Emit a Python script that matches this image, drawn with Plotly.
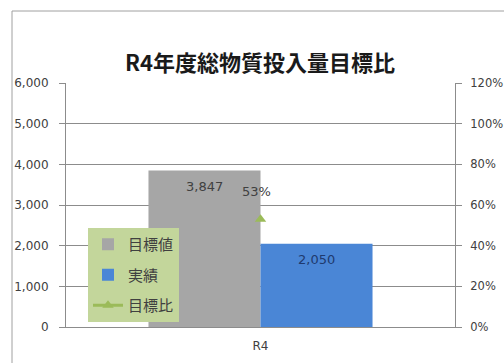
import plotly.graph_objects as go
from plotly.subplots import make_subplots

categories = ["R4"]
target_values = [3847]
actual_values = [2050]
ratio_values = [0.53]
series_names = ["目標値", "実績", "目標比"]
title_text = "R4年度総物質投入量目標比"

W, H = 504, 363
L, R, T, B = 66, 49, 83, 36
pw, ph = W - L - R, H - T - B

font_num = "DejaVu Sans, sans-serif"
font_jp = "Noto Sans CJK JP, sans-serif"
grid = "#8c8c8c"
txt = "#404040"

fig = make_subplots(specs=[[{"secondary_y": True}]])

fig.add_trace(go.Bar(
    x=categories, y=target_values, name=series_names[0],
    marker=dict(color="#a6a6a6", line=dict(width=0)),
    legendgroup="a", offsetgroup="a",
), secondary_y=False)

fig.add_trace(go.Bar(
    x=categories, y=actual_values, name=series_names[1],
    marker=dict(color="#4a86d6", line=dict(width=0)),
    legendgroup="b", offsetgroup="b",
), secondary_y=False)

fig.add_trace(go.Scatter(
    x=categories, y=ratio_values, name=series_names[2], mode="lines+markers",
    line=dict(color="#9bbb59", width=3),
    marker=dict(symbol="triangle-up", size=10, color="#9bbb59"),
    legendgroup="c",
), secondary_y=True)

# data labels
bar_half = pw * (1 - 0.424) / 4
for vals, shift, col in ((target_values, -bar_half, txt), (actual_values, bar_half, "#1f3a6e")):
    for c, v in zip(categories, vals):
        fig.add_annotation(x=c, y=v, xref="x", yref="y", text=f"{v:,}",
                           showarrow=False, xshift=shift, yshift=-16,
                           yanchor="middle", xanchor="center",
                           font=dict(family=font_num, size=13, color=col))
for c, v in zip(categories, ratio_values):
    fig.add_annotation(x=c, y=v, xref="x", yref="y2", text=f"{v*100:.0f}%",
                       showarrow=False, xshift=-4, yshift=28,
                       yanchor="middle", xanchor="center",
                       font=dict(family=font_num, size=13, color=txt))

fig.update_layout(
    width=W, height=H,
    margin=dict(l=L, r=R, t=T, b=B, pad=0, autoexpand=False),
    paper_bgcolor="white", plot_bgcolor="white",
    barmode="group", bargap=0.424, bargroupgap=0,
    title=dict(text=f"<b>{title_text}</b>", x=260 / W, xanchor="center",
               y=1 - 63 / H, yanchor="middle",
               font=dict(size=22, color="#1a1a1a", family=font_jp)),
    font=dict(family=font_num, color=txt, size=12),
    showlegend=True,
    legend=dict(x=(88 - L) / pw, y=(H - B - 228) / ph, xanchor="left", yanchor="top",
                bgcolor="#c3d69b", borderwidth=0,
                font=dict(family=font_jp, size=15, color=txt),
                tracegroupgap=8, itemwidth=30),
)

fig.update_xaxes(
    domain=[0, 1],
    showgrid=False, showline=True, linecolor=grid, linewidth=1,
    ticks="", automargin=False, ticklabelstandoff=8,
    tickfont=dict(size=12, color=txt, family=font_num),
)
fig.update_yaxes(
    range=[0, 6000], dtick=1000, tickformat=",d",
    showgrid=True, gridcolor=grid, gridwidth=1,
    showline=True, linecolor=grid, linewidth=1,
    ticks="outside", ticklen=6, tickcolor=grid, ticklabelstandoff=8,
    tickfont=dict(size=12, color=txt, family=font_num),
    zeroline=False, automargin=False, secondary_y=False,
)
fig.update_yaxes(
    range=[0, 1.2], dtick=0.2, tickformat=".0%",
    showgrid=False, showline=True, linecolor=grid, linewidth=1,
    ticks="outside", ticklen=6, tickcolor=grid, ticklabelstandoff=6,
    tickfont=dict(size=11.5, color=txt, family=font_num),
    zeroline=False, automargin=False, secondary_y=True,
)

# outer chart border (extends past right/bottom edges like the reference crop)
fig.add_shape(type="rect", xref="paper", yref="paper",
              x0=(12 - L) / pw, x1=(W + 10 - L) / pw,
              y0=(H - B - (H + 10)) / ph, y1=(H - B - 11) / ph,
              line=dict(color="#a0a0a0", width=1), fillcolor="rgba(0,0,0,0)",
              layer="below")

fig.write_html("out.html")
